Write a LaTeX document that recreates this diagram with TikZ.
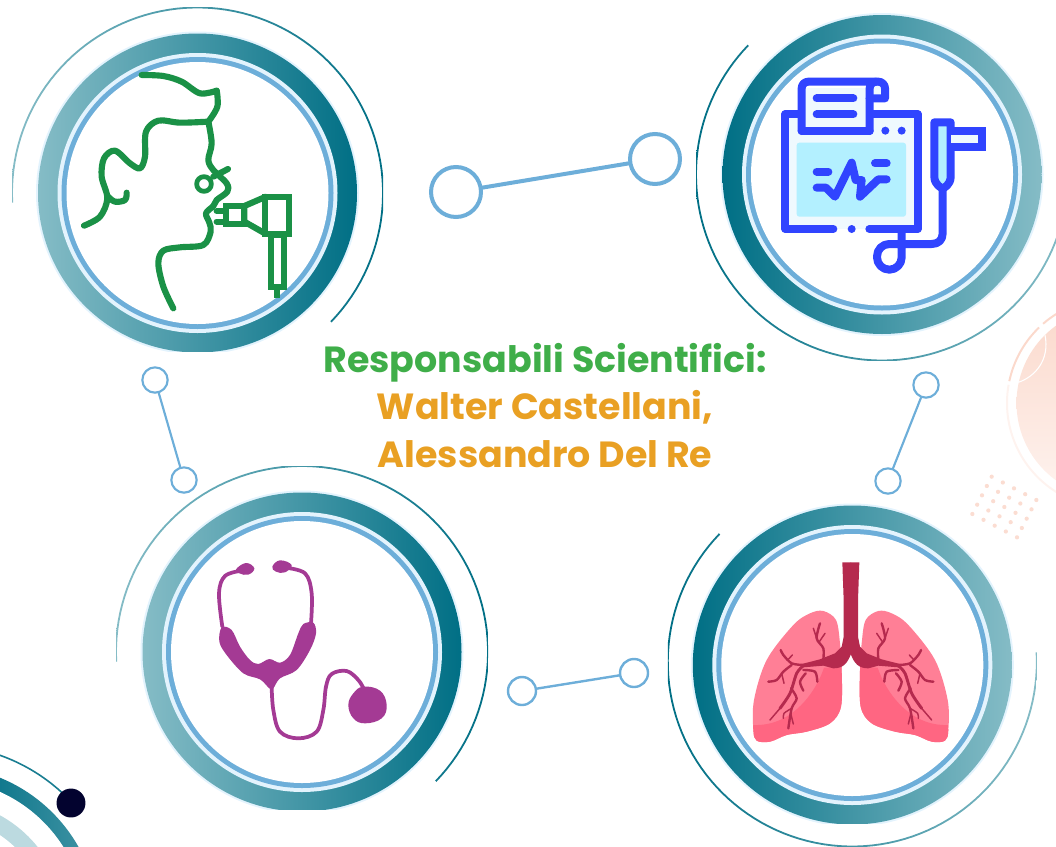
\documentclass[tikz,border=0pt]{standalone}
\usepackage{fontspec}
\setmainfont{Poppins}
\definecolor{tealdark}{HTML}{006F85}
\definecolor{teallight}{HTML}{85BCC6}
\definecolor{halo}{HTML}{E3F3FD}
\definecolor{linkblue}{HTML}{6DAED9}
\definecolor{inhgreen}{HTML}{1A9146}
\definecolor{monblue}{HTML}{3044FF}
\definecolor{monpale}{HTML}{EFF9FE}
\definecolor{monscreen}{HTML}{B3F0FF}
\definecolor{stethcol}{HTML}{A43A94}
\definecolor{lunglight}{HTML}{FF7F96}
\definecolor{lungdark}{HTML}{FF6682}
\definecolor{tracheacol}{HTML}{B52A4E}
\definecolor{peach}{HTML}{FBD9CC}
\definecolor{peachpale}{HTML}{FEF3EF}
\definecolor{peachdot}{HTML}{FBDDD2}
\definecolor{titlegreen}{HTML}{3FAE49}
\definecolor{titleorange}{HTML}{E9A023}
\definecolor{navydot}{HTML}{03032F}
\tikzset{
  zoomed/.style 2 args={shift={(#1,#2)},x=.25pt,y=-.25pt},
  linkbig/.style={circle,draw=linkblue,fill=white,line width=3pt,minimum size=37.5pt,inner sep=0pt},
  linksmall/.style={circle,draw=linkblue,fill=white,line width=1.6pt,minimum size=19pt,inner sep=0pt},
  linkmid/.style={circle,draw=linkblue,fill=white,line width=1.8pt,minimum size=21pt,inner sep=0pt},
  linkline/.style={draw=linkblue,line cap=round},
  titleline/.style={font=\bfseries\fontsize{27.3pt}{30pt}\selectfont,inner sep=0pt,anchor=base},
  greenline/.style={draw=inhgreen,line width=4.6pt,line cap=round,line join=round},
  monline/.style={draw=monblue,line width=6pt,line cap=round,line join=round},
  stethtube/.style={draw=stethcol,line width=2.8pt,line cap=round,line join=round},
  vein/.style={draw=tracheacol,line width=1.8pt,line cap=round,line join=round},
  veinthin/.style={draw=tracheacol,line width=1.1pt,line cap=round,line join=round},
}
% #1 cx, #2 cy, #3 left colour, #4 right colour
\newcommand\ringdisks[4]{%
  \fill[halo] (#1,#2) circle (161.5);
  \shade[left color=#3,right color=#4] (#1,#2) circle (159.5);
  \fill[halo] (#1,#2) circle (140);
  \fill[linkblue] (#1,#2) circle (136);
  \fill[white] (#1,#2) circle (131);
}
% #1 cx, #2 cy, #3 R, #4 start, #5 end, #6 left, #7 right
\newcommand\thinarc[7]{%
  \begin{scope}
    \clip plot[domain=#4:#5,samples=90,variable=\t] ({#1+(#3+.9)*cos(\t)},{#2+(#3+.9)*sin(\t)})
      -- plot[domain=#5:#4,samples=90,variable=\t] ({#1+(#3-.9)*cos(\t)},{#2+(#3-.9)*sin(\t)}) -- cycle;
    \shade[left color=#6,right color=#7] ({#1-#3},{#2-#3}) rectangle ({#1+#3},{#2+#3});
  \end{scope}
}
\newcommand\lunghalf{%
  \begin{scope}
    \clip plot[smooth cycle,tension=.55] coordinates {(490,333) (528,360) (540,430) (545,510) (543,620) (510,670) (440,695) (380,705) (330,725) (290,722) (280,690) (282,600) (320,480) (400,375) (450,340)};
    \fill[lunglight] (270,320) rectangle (560,740);
    \fill[lungdark] (560,500) -- (492,503) .. controls (470,570) and (400,680) .. (280,675) -- (270,740) -- (560,740) -- cycle;
  \end{scope}
  \fill[tracheacol] (547,187) -- (551,300) -- (551,410) -- (545,440) -- (525,460) -- (480,478) -- (425,492) -- (430,502) -- (490,497) -- (520,505) .. controls (550,505) and (562,490) .. (573,462) -- (573,187) -- cycle;
  \draw[vein,line width=2.2pt] plot[smooth] coordinates {(430,497) (410,520) (390,580) (360,625)};
  \draw[veinthin] (360,625) -- (330,660);
  \draw[vein] plot[smooth] coordinates {(490,478) (490,445) (470,415) (480,370)};
  \draw[veinthin] (470,415) -- (460,385);
  \draw[veinthin] (478,425) -- (495,400);
  \draw[vein] plot[smooth] coordinates {(430,495) (395,490) (370,465) (362,450)};
  \draw[veinthin] (385,478) -- (397,465);
  \draw[vein] plot[smooth] coordinates {(395,495) (370,515) (350,540) (325,545)};
  \draw[veinthin] (365,520) -- (372,550);
  \draw[vein] plot[smooth] coordinates {(430,510) (465,515) (472,545)};
  \draw[vein] plot[smooth] coordinates {(437,520) (420,545) (430,572)};
  \draw[vein] plot[smooth] coordinates {(393,565) (410,595) (395,625) (385,685)};
  \draw[veinthin] plot[smooth] coordinates {(395,625) (372,640) (370,655)};
  \draw[veinthin] (392,640) -- (400,672);
}
\begin{document}
\begin{tikzpicture}[x=.75pt,y=-.75pt]
\useasboundingbox (0,0) rectangle (1056,846);
\clip (0,0) rectangle (1056,846);

% --- peach decoration
\shade[top color=peach,bottom color=peachpale] (1112,403) circle (95.5);
\begin{scope}[zoomed={950}{300}]
  \draw[white,line width=.8pt] (205,247) .. controls (255,230) and (300,180) .. (285,105);
\end{scope}
\draw[peachpale,line width=1.5pt] (1112,403) ++(122:105) arc[start angle=122,end angle=190,radius=105];
\draw[peach,line width=1.5pt] (1112,403) ++(192:105) arc[start angle=192,end angle=226,radius=105];
\draw[peach,line width=1.5pt] (1112,403) ++(229:105) arc[start angle=229,end angle=240,radius=105];
\begin{scope}[zoomed={950}{300}]
  \foreach \a in {0,...,4} \foreach \b in {0,...,4}
    \fill[peachdot] ({125+33.5*\a-14.5*\b},{530+17.5*\a+28*\b}) circle (6.4);
\end{scope}

% --- bottom-left corner ring
\begin{scope}
  \clip (-60,925) circle (159);
  \shade[left color=tealdark!95!white,right color=tealdark!75!white] (-10,760) rectangle (90,846);
\end{scope}
\fill[white] (-60,925) circle (146);
\fill[teallight!55!white] (-60,925) circle (125);
\fill[white] (-60,925) circle (108);
\draw[tealdark!90!white,line width=1.2pt] (-60,925) ++(285:180) arc[start angle=285,end angle=317,radius=180];
\node[circle,fill=navydot,minimum size=21.7pt,inner sep=0pt] (cornerdot) at (71,803) {};

% --- the four rings
\begin{scope}
  \clip (0,0) rectangle (1056,351.5);
  \ringdisks{197.5}{193}{teallight}{tealdark}
\end{scope}
\thinarc{197.5}{193}{185.5}{177}{404}{teallight}{tealdark}

\ringdisks{882}{174.5}{tealdark}{teallight}
\thinarc{882}{174.5}{186}{224}{17}{tealdark}{teallight}

\begin{scope}
  \clip (0,400) rectangle (1056,809.5);
  \ringdisks{302}{652}{teallight}{tealdark}
\end{scope}
\thinarc{302}{652}{186}{177}{404}{teallight}{tealdark}

\begin{scope}
  \clip (0,400) rectangle (1056,823);
  \ringdisks{852.3}{665}{tealdark}{teallight}
\end{scope}
\thinarc{852.3}{662}{184.5}{224}{-3}{tealdark}{teallight}

% --- dumbbell connectors
\node[linkbig] (topa) at (456,192) {};
\node[linkbig] (topb) at (655,159) {};
\draw[linkline,line width=3pt] (topa) -- (topb);
\node[linksmall] (lefta) at (155,380) {};
\node[linksmall] (leftb) at (184,480) {};
\draw[linkline,line width=1.6pt] (lefta) -- (leftb);
\node[linksmall] (righta) at (926,385) {};
\node[linksmall] (rightb) at (888,481) {};
\draw[linkline,line width=1.6pt] (righta) -- (rightb);
\node[linkmid] (bota) at (522,691) {};
\node[linkmid] (botb) at (634,673) {};
\draw[linkline,line width=1.8pt] (bota) -- (botb);

% --- title
\node[titleline,text=titlegreen] (titlea) at (545,372) {Responsabili Scientifici:};
\node[titleline,text=titleorange] (titleb) at (545,419) {Walter Castellani,};
\node[titleline,text=titleorange] (titlec) at (545,467) {Alessandro Del Re};

% --- inhaler icon
\begin{scope}[zoomed={0}{0}]
  \draw[greenline] plot[smooth,tension=.55] coordinates {(425,225) (490,228) (545,245) (600,280) (650,272)};
  \draw[greenline] plot[smooth,tension=.6] coordinates {(650,272) (652,320) (625,365)};
  \draw[greenline] plot[smooth,tension=.55] coordinates {(625,365) (540,368) (475,362) (438,395) (435,470) (420,505) (390,490) (345,452) (312,475) (305,530) (322,595) (300,650) (252,677)};
  \draw[greenline] plot[smooth,tension=.6] coordinates {(325,590) (345,605) (375,600) (380,578)};
  \draw[greenline] plot[smooth,tension=.55] coordinates {(625,365) (635,430) (625,480) (640,510) (680,550) (682,575) (650,600) (640,618) (618,640) (628,668) (632,695) (610,735) (540,742) (490,752) (475,790) (490,860) (520,925)};
  \draw[greenline,line width=3.6pt] (612,552) circle (22);
  \draw[greenline] (640,530) -- (684,507);
  \draw[greenline,fill=white,line join=miter] (677,618) rectangle (733,673);
  \draw[greenline] (650,633) -- (677,633);
  \draw[greenline] (650,665) -- (677,665);
  \draw[greenline,fill=white] (733,618) -- (798,590) -- (798,702) -- (733,665) -- cycle;
  \draw[greenline,fill=white,line join=miter] (795,590) rectangle (866,703);
  \draw[greenline,fill=white,line join=miter] (812,705) rectangle (852,860);
  \draw[inhgreen,line width=4.5pt] (832,860) -- (832,893);
\end{scope}

% --- monitor icon
\begin{scope}[zoomed={680}{20}]
  \fill[monpale] (316,283) rectangle (713,627);
  \fill[monscreen,rounded corners=2pt] (350,368) rectangle (678,590);
  \draw[monline] (460,627) -- (316,627) -- (316,283) -- (365,283);
  \draw[monline] (569,283) -- (713,283) -- (713,627) -- (568,627);
  \fill[monblue] (515,627) circle (12);
  \fill[monblue] (616,332) circle (12);
  \fill[monblue] (665,332) circle (12);
  \fill[monpale] (365,205) rectangle (569,333);
  \fill[monpale] (569,197) rectangle (615,235);
  \draw[monline] (365,333) -- (365,205) arc[start angle=180,end angle=270,radius=20] -- (595,185) arc[start angle=270,end angle=360,radius=20] -- (615,235) -- (569,235);
  \draw[monline] (569,333) -- (569,205) arc[start angle=180,end angle=270,radius=20];
  \draw[monline] (365,333) -- (569,333);
  \draw[monline] (410,235) -- (520,235);
  \draw[monline] (410,283) -- (520,283);
  \draw[monline] (410,455) -- (445,455);
  \draw[monline] (585,430) -- (620,430);
  \draw[monline] (410,503) -- (438,503) -- (465,530) -- (515,428) -- (527,480) -- (545,480) -- (540,530) -- (595,478) -- (620,478);
  % probe
  \draw[monline,fill=monscreen] (763,307) -- (812,307) -- (812,470) .. controls (812,495) and (790,505) .. (788,505) .. controls (786,505) and (763,495) .. (763,470) -- cycle;
  \draw[monline,fill=monpale,line join=miter,line cap=butt] (812,332) -- (906,332) -- (906,381) -- (812,381);
  % cable
  \draw[monline] (788,510) -- (788,640) .. controls (788,660) and (775,672) .. (755,672) -- (628,672) arc[start angle=270,end angle=180,radius=37] -- (591,712) arc[start angle=180,end angle=0,radius=37] -- (665,638);
\end{scope}

% --- stethoscope icon
\begin{scope}[zoomed={110}{470}]
  \draw[stethtube] plot[smooth,tension=.6] coordinates {(395,302) (345,318) (327,370) (337,470)};
  \draw[stethtube] plot[smooth,tension=.6] coordinates {(525,293) (585,310) (605,370) (603,460)};
  \fill[stethcol] plot[smooth cycle,tension=.7] coordinates {(378,298) (408,279) (433,295) (415,314) (388,310)};
  \fill[stethcol] plot[smooth cycle,tension=.7] coordinates {(487,290) (510,271) (545,285) (525,307) (498,305)};
  \fill[stethcol] plot[smooth cycle,tension=.55] coordinates {(335,472) (365,480) (390,530) (420,570) (445,582) (478,567) (510,578) (540,555) (565,490) (580,462) (610,458) (618,490) (600,540) (560,600) (510,625) (490,655) (478,655) (450,628) (400,610) (350,555) (328,515)};
  \draw[stethtube] plot[smooth,tension=.6] coordinates {(485,650) (490,720) (510,785) (565,805) (620,785) (640,720) (648,650) (665,612) (710,603) (745,630) (762,658)};
  \fill[stethcol] plot[smooth cycle,tension=.7] coordinates {(760,650) (810,662) (830,705) (815,745) (765,760) (730,745) (715,705) (730,670)};
\end{scope}

% --- lungs icon
\begin{scope}[zoomed={660}{500}]
  \lunghalf
\end{scope}
\begin{scope}[shift={(1041.67,500)},x=-.25pt,y=-.25pt]
  \lunghalf
\end{scope}
\end{tikzpicture}
\end{document}
